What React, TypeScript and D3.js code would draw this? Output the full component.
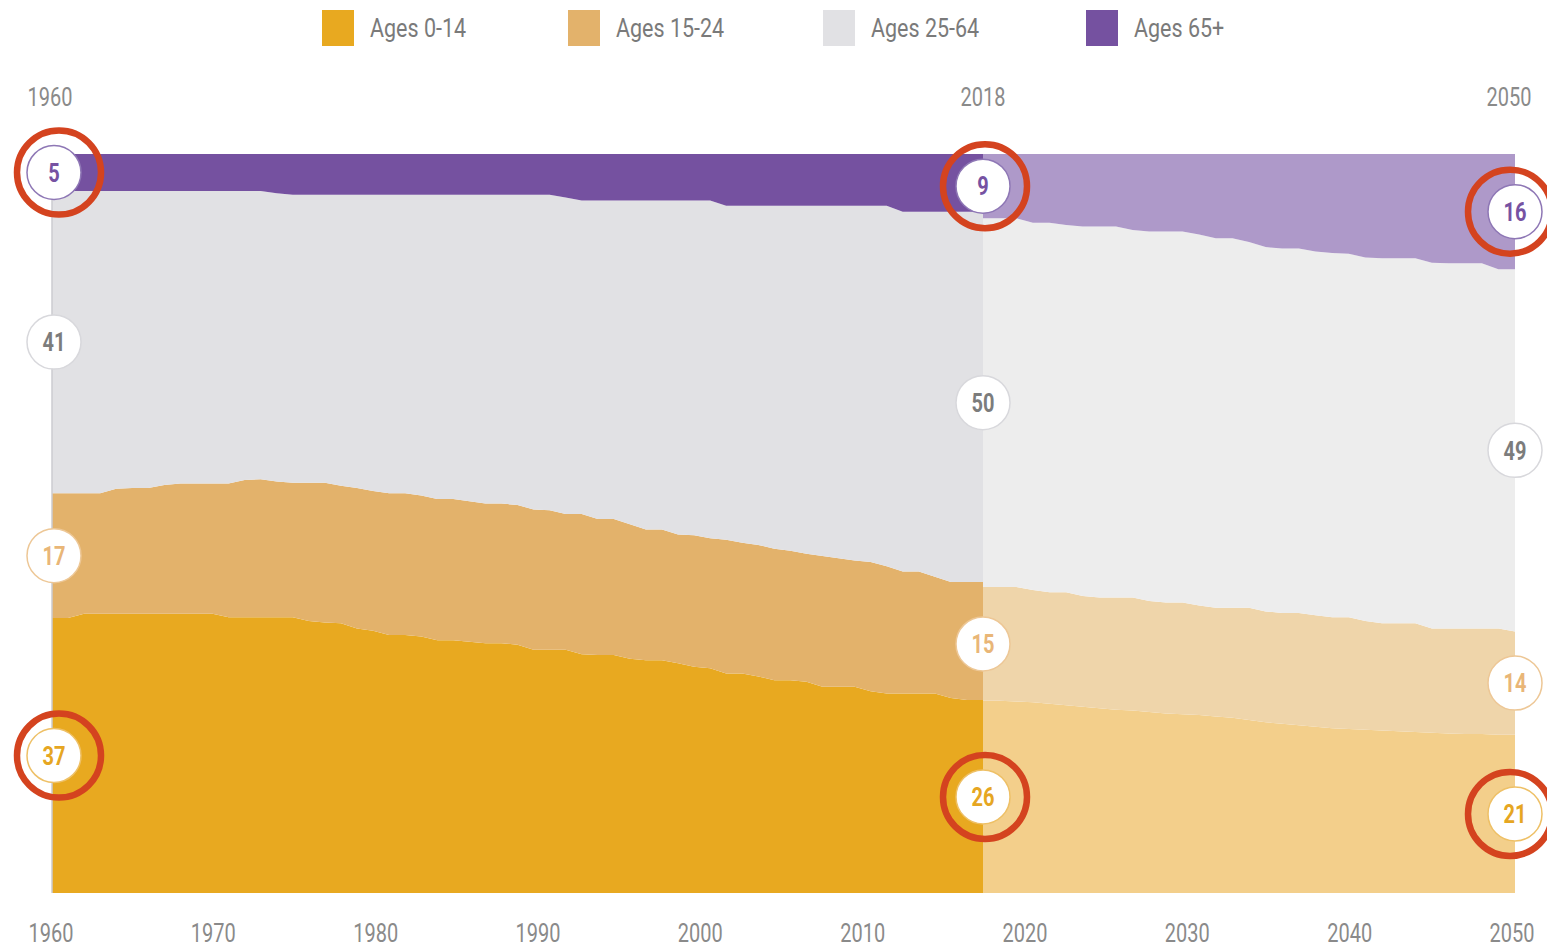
import React from "react";
import * as d3 from "d3";

// ---------- DATA ----------
const seriesKeys = ["a0_14", "a15_24", "a25_64", "a65"];
const seriesNames = ["Ages 0-14", "Ages 15-24", "Ages 25-64", "Ages 65+"];

const histYears = d3.range(1960, 2019); // 1960..2018
const projYears = d3.range(2018, 2051); // 2018..2050

const histAges0to14 = [
  37.2, 37.2, 37.8, 37.8, 37.8, 37.8, 37.8, 37.8, 37.8, 37.8,
  37.8, 37.3, 37.3, 37.3, 37.3, 37.3, 36.8, 36.6, 36.5, 35.8,
  35.5, 34.9, 34.9, 34.7, 34.2, 34.2, 34.0, 33.8, 33.8, 33.6,
  32.9, 32.9, 32.9, 32.3, 32.2, 32.2, 31.7, 31.5, 31.5, 31.1,
  30.6, 30.4, 29.7, 29.7, 29.3, 28.8, 28.8, 28.6, 27.9, 27.9,
  27.9, 27.3, 27.0, 27.0, 27.0, 27.0, 26.4, 26.1, 26.1,
];
const histAges15to24 = [
  16.9, 16.9, 16.3, 16.3, 16.9, 17.0, 17.0, 17.4, 17.6, 17.6,
  17.6, 18.1, 18.6, 18.7, 18.4, 18.2, 18.7, 18.9, 18.6, 19.0,
  18.9, 19.2, 19.2, 19.1, 19.1, 19.1, 19.0, 18.9, 18.9, 18.9,
  19.0, 18.9, 18.4, 19.0, 18.4, 18.4, 18.2, 17.7, 17.7, 17.4,
  17.8, 17.6, 18.1, 17.7, 17.8, 17.8, 17.5, 17.3, 17.7, 17.4,
  17.1, 17.5, 17.2, 16.5, 16.5, 15.8, 15.7, 16.0, 16.0,
];
const histAges25to64 = [
  40.9, 40.9, 40.9, 40.9, 40.3, 40.2, 40.2, 39.8, 39.6, 39.6,
  39.6, 39.6, 39.1, 39.0, 39.0, 39.0, 39.0, 39.0, 39.4, 39.7,
  40.1, 40.4, 40.4, 40.7, 41.2, 41.2, 41.5, 41.8, 41.8, 42.0,
  42.6, 42.7, 42.8, 42.4, 43.1, 43.1, 43.8, 44.5, 44.5, 45.2,
  45.3, 45.7, 45.2, 45.6, 45.9, 46.4, 46.7, 47.1, 47.4, 47.7,
  48.0, 48.2, 48.8, 48.7, 48.7, 49.4, 50.1, 50.1, 50.1,
];
const histAges65plus = [
  5.0, 5.0, 5.0, 5.0, 5.0, 5.0, 5.0, 5.0, 5.0, 5.0,
  5.0, 5.0, 5.0, 5.0, 5.3, 5.5, 5.5, 5.5, 5.5, 5.5,
  5.5, 5.5, 5.5, 5.5, 5.5, 5.5, 5.5, 5.5, 5.5, 5.5,
  5.5, 5.5, 5.9, 6.3, 6.3, 6.3, 6.3, 6.3, 6.3, 6.3,
  6.3, 6.3, 7.0, 7.0, 7.0, 7.0, 7.0, 7.0, 7.0, 7.0,
  7.0, 7.0, 7.0, 7.8, 7.8, 7.8, 7.8, 7.8, 7.8,
];

const projAges0to14 = [
  26.0, 26.0, 25.9, 25.8, 25.6, 25.4, 25.2, 25.0, 24.8, 24.7,
  24.5, 24.3, 24.2, 24.1, 23.9, 23.7, 23.4, 23.1, 22.9, 22.7,
  22.5, 22.3, 22.2, 22.1, 22.0, 21.9, 21.8, 21.7, 21.6, 21.5,
  21.5, 21.4, 21.4,
];
const projAges15to24 = [
  15.4, 15.4, 15.5, 15.2, 15.1, 15.3, 15.0, 15.0, 15.2, 15.3,
  15.0, 15.0, 15.1, 14.8, 14.7, 14.9, 15.2, 15.0, 15.0, 15.2,
  15.1, 15.0, 15.1, 14.7, 14.5, 14.6, 14.7, 14.1, 14.2, 14.3,
  14.3, 14.4, 14.0,
];
const projAges25to64 = [
  49.9, 49.9, 49.9, 49.7, 50.0, 49.7, 50.0, 50.2, 50.2, 49.7,
  50.0, 50.2, 50.2, 50.2, 50.0, 50.0, 49.5, 49.3, 49.3, 49.3,
  49.2, 49.3, 49.2, 49.2, 49.4, 49.4, 49.4, 49.5, 49.4, 49.4,
  49.4, 48.6, 49.0,
];
const projAges65plus = [
  8.7, 8.7, 8.7, 9.3, 9.3, 9.6, 9.8, 9.8, 9.8, 10.3,
  10.5, 10.5, 10.5, 10.9, 11.4, 11.4, 11.9, 12.6, 12.8, 12.8,
  13.2, 13.4, 13.5, 14.0, 14.1, 14.1, 14.1, 14.7, 14.8, 14.8,
  14.8, 15.6, 15.6,
];

// rounded labels shown in the circles (order: 0-14, 15-24, 25-64, 65+)
const labelYears = [1960, 2018, 2050];
const labels1960 = [37, 17, 41, 5];
const labels2018 = [26, 15, 50, 9];
const labels2050 = [21, 14, 49, 16];
const highlightedSeries = ["a0_14", "a65"];

const headerYears = [1960, 2018, 2050];
const axisTicks = [1960, 1970, 1980, 1990, 2000, 2010, 2020, 2030, 2040, 2050];

// ---------- STYLE ----------
const W = 1547;
const H = 948;
const histColors = ["#E8A920", "#E3B26B", "#E1E1E4", "#7551A0"];
const projColors = ["#F3CF8B", "#EFD5AA", "#EDEDED", "#AE99C9"];
const labelTextColors = ["#E6A622", "#E9B677", "#7c7c7c", "#7652A2"];
const labelStrokeColors = ["#EEC066", "#EDC796", "#D8D8DC", "#8E77B5"];
const ringColor = "#D4431F";
const ringShift = [5, 2, -5]; // small horizontal nudge of the highlight rings per label column
const textGray = "#8a8a8a";
const FONT = "Roboto, 'Open Sans', sans-serif";
const legendX = [322, 568, 823, 1086];

function buildRows(years: number[], cols: number[][]) {
  return years.map((year, i) => {
    const r: any = { year };
    seriesKeys.forEach((k, j) => (r[k] = cols[j][i]));
    return r;
  });
}

const histRows = buildRows(histYears, [histAges0to14, histAges15to24, histAges25to64, histAges65plus]);
const projRows = buildRows(projYears, [projAges0to14, projAges15to24, projAges25to64, projAges65plus]);

function CText(props: {
  x: number; y: number; size: number; fill: string; weight?: number | string;
  anchor?: string; children: any; sx?: number;
}) {
  const { x, y, size, fill, weight = 400, anchor = "middle", children, sx = 0.8 } = props;
  return (
    <text
      transform={`translate(${x},${y}) scale(${sx},1)`}
      textAnchor={anchor as any}
      dominantBaseline="central"
      fontFamily={FONT}
      fontSize={size}
      fontWeight={weight}
      fill={fill}
    >
      {children}
    </text>
  );
}

export default function App() {
  const x = d3.scaleLinear().domain([1960, 2018, 2050]).range([52, 983, 1515]);
  const axisX = d3.scaleLinear().domain([1960, 2050]).range([51, 1512]);
  const y = d3.scaleLinear().domain([0, 100]).range([893, 154]);

  const stack = d3.stack<any>().keys(seriesKeys);
  const histStack = stack(histRows);
  const projStack = stack(projRows);

  const area = d3
    .area<any>()
    .x((d) => x(d.data.year))
    .y0((d) => y(d[0]))
    .y1((d) => y(d[1]))
    .curve(d3.curveLinear);

  const labelSets = [labels1960, labels2018, labels2050];

  const circleMarks: any[] = [];
  labelYears.forEach((yr, li) => {
    const st = yr < 2018 ? histStack : projStack;
    st.forEach((layer, si) => {
      const pt = layer.find((p: any) => p.data.year === yr)!;
      const cy = y((pt[0] + pt[1]) / 2);
      circleMarks.push({
        key: `${yr}-${si}`,
        cx: x(yr) + (li === 0 ? 2 : 0),
        cy,
        li,
        value: labelSets[li][si],
        si,
        ring: highlightedSeries.includes(seriesKeys[si]),
      });
    });
  });

  return (
    <svg
      width={W}
      height={H}
      style={{ position: "absolute", left: 0, top: 0, background: "#fff" }}
    >
      {/* legend */}
      {seriesNames.map((name, i) => (
        <g key={name}>
          <rect x={legendX[i]} y={10} width={32} height={36} fill={histColors[i]} />
          <CText x={legendX[i] + 48} y={28} size={25} fill="#7a7a7a" anchor="start" sx={0.86}>
            {name}
          </CText>
        </g>
      ))}

      {/* header years */}
      {headerYears.map((yr) => (
        <CText key={yr} x={yr === 2018 ? x(yr) : axisX(yr) - (yr === 2050 ? 3 : 1)} y={98} size={25} fill={textGray}>
          {yr}
        </CText>
      ))}

      {/* projection areas */}
      {projStack.map((layer, i) => (
        <path key={"p" + i} d={area(layer) || ""} fill={projColors[i]} />
      ))}
      {/* historical areas */}
      {histStack.map((layer, i) => (
        <path key={"h" + i} d={area(layer) || ""} fill={histColors[i]} />
      ))}

      {/* left edge line */}
      <line x1={x(1960)} x2={x(1960)} y1={y(100)} y2={y(0)} stroke="#cbcbd0" strokeWidth={1.5} />

      {/* bottom axis labels */}
      {axisTicks.map((t) => (
        <CText key={t} x={axisX(t)} y={934} size={25} fill={textGray}>
          {t}
        </CText>
      ))}

      {/* value circles */}
      {circleMarks.map((m) => (
        <g key={m.key}>
          <circle cx={m.cx} cy={m.cy} r={27} fill="#fff" stroke={labelStrokeColors[m.si]} strokeWidth={1.5} />
          <CText x={m.cx} y={m.cy + 1} size={25} weight={700} fill={labelTextColors[m.si]}>
            {m.value}
          </CText>
        </g>
      ))}

      {/* highlight rings */}
      {circleMarks
        .filter((m) => m.ring)
        .map((m) => (
          <circle
            key={"r" + m.key}
            cx={m.cx + ringShift[m.li]}
            cy={m.cy}
            r={42}
            fill="none"
            stroke={ringColor}
            strokeWidth={6.5}
          />
        ))}
    </svg>
  );
}
